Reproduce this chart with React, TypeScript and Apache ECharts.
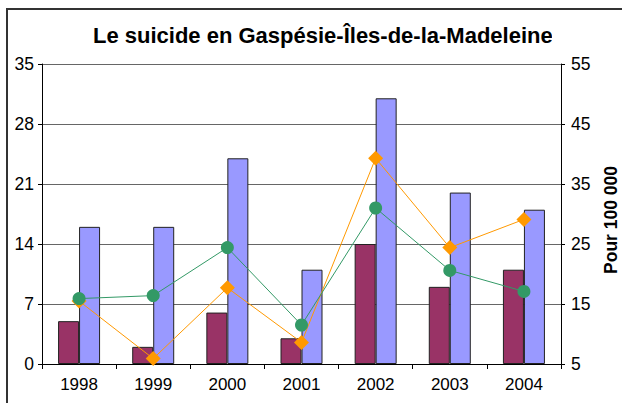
import React, { useEffect, useRef } from "react";
import * as echarts from "echarts";

const years = ["1998", "1999", "2000", "2001", "2002", "2003", "2004"];
const countsSub = [5, 2, 6, 3, 14, 9, 11];
const countsTotal = [16, 16, 24, 11, 31, 20, 18];
const rateSub = [15.5, 5.9, 17.7, 8.6, 39.3, 24.4, 29.1];
const rateTotal = [15.9, 16.4, 24.4, 11.5, 31.0, 20.6, 17.1];
const titleText = "Le suicide en Gaspésie-Îles-de-la-Madeleine";
const rightAxisName = "Pour 100 000";

const FONT = "'Liberation Sans', Arial, sans-serif";

export default function App() {
  const ref = useRef<HTMLDivElement>(null);
  useEffect(() => {
    if (!ref.current) return;
    const chart = echarts.init(ref.current, null, { renderer: "svg" });
    chart.setOption({
      animation: false,
      backgroundColor: "#ffffff",
      textStyle: { fontFamily: FONT },
      grid: {
        left: 42,
        right: 61,
        top: 64,
        bottom: 39,
        containLabel: false,
        outerBoundsMode: "none",
      },
      graphic: [
        {
          type: "text",
          left: 93,
          top: 24,
          z: 10,
          style: {
            text: titleText,
            fontFamily: FONT,
            fontWeight: "bold",
            fontSize: 22,
            fill: "#000",
          },
        },
        {
          type: "rect",
          shape: { x: 552, y: 18, width: 70, height: 38 },
          z: 11,
          style: { fill: "#ffffff" },
        },
        {
          type: "line",
          shape: { x1: 6, y1: 9, x2: 622, y2: 9 },
          z: 12,
          style: { stroke: "#333", lineWidth: 2 },
        },
        {
          type: "line",
          shape: { x1: 7, y1: 9, x2: 7, y2: 403 },
          z: 12,
          style: { stroke: "#333", lineWidth: 2 },
        },
      ],
      xAxis: {
        type: "category",
        data: years,
        boundaryGap: true,
        axisLine: { lineStyle: { color: "#000", width: 1 } },
        axisTick: { show: true, length: 5, lineStyle: { color: "#000" } },
        axisLabel: { color: "#000", fontSize: 17, margin: 12, fontFamily: FONT },
      },
      yAxis: [
        {
          type: "value",
          min: 0,
          max: 35,
          interval: 7,
          position: "left",
          axisLine: { show: true, lineStyle: { color: "#000", width: 1 } },
          axisTick: { show: true, length: 4, lineStyle: { color: "#000" } },
          axisLabel: { color: "#000", fontSize: 17.5, margin: 8, fontFamily: FONT },
          splitLine: { show: true, lineStyle: { color: "#666", width: 1 } },
        },
        {
          type: "value",
          min: 5,
          max: 55,
          alignTicks: true,
          position: "right",
          name: rightAxisName,
          nameLocation: "middle",
          nameRotate: 90,
          nameGap: 41,
          nameTextStyle: {
            color: "#000",
            fontSize: 17.5,
            fontWeight: "bold",
            fontFamily: FONT,
            padding: [0, 12, 0, 0],
          },
          axisLine: { show: true, lineStyle: { color: "#000", width: 1 } },
          axisTick: { show: true, length: 4, lineStyle: { color: "#000" } },
          axisLabel: { color: "#000", fontSize: 17.5, margin: 10, fontFamily: FONT },
          splitLine: { show: false },
        },
      ],
      series: [
        {
          type: "bar",
          yAxisIndex: 0,
          data: countsSub,
          barWidth: 21,
          barGap: "0%",
          itemStyle: { color: "#993366", borderColor: "#222", borderWidth: 1 },
        },
        {
          type: "bar",
          yAxisIndex: 0,
          data: countsTotal,
          barWidth: 21,
          barGap: "0%",
          itemStyle: { color: "#9999FF", borderColor: "#222", borderWidth: 1 },
        },
        {
          type: "line",
          yAxisIndex: 1,
          data: rateSub,
          symbol: "diamond",
          symbolSize: 15,
          lineStyle: { color: "#FF9900", width: 1 },
          itemStyle: { color: "#FF9900" },
          z: 5,
        },
        {
          type: "line",
          yAxisIndex: 1,
          data: rateTotal,
          symbol: "circle",
          symbolSize: 13,
          lineStyle: { color: "#339966", width: 1 },
          itemStyle: { color: "#339966" },
          z: 6,
        },
      ],
    });
    return () => chart.dispose();
  }, []);
  return (
    <div
      ref={ref}
      style={{ position: "fixed", left: 0, top: 0, width: 622, height: 403 }}
    />
  );
}
